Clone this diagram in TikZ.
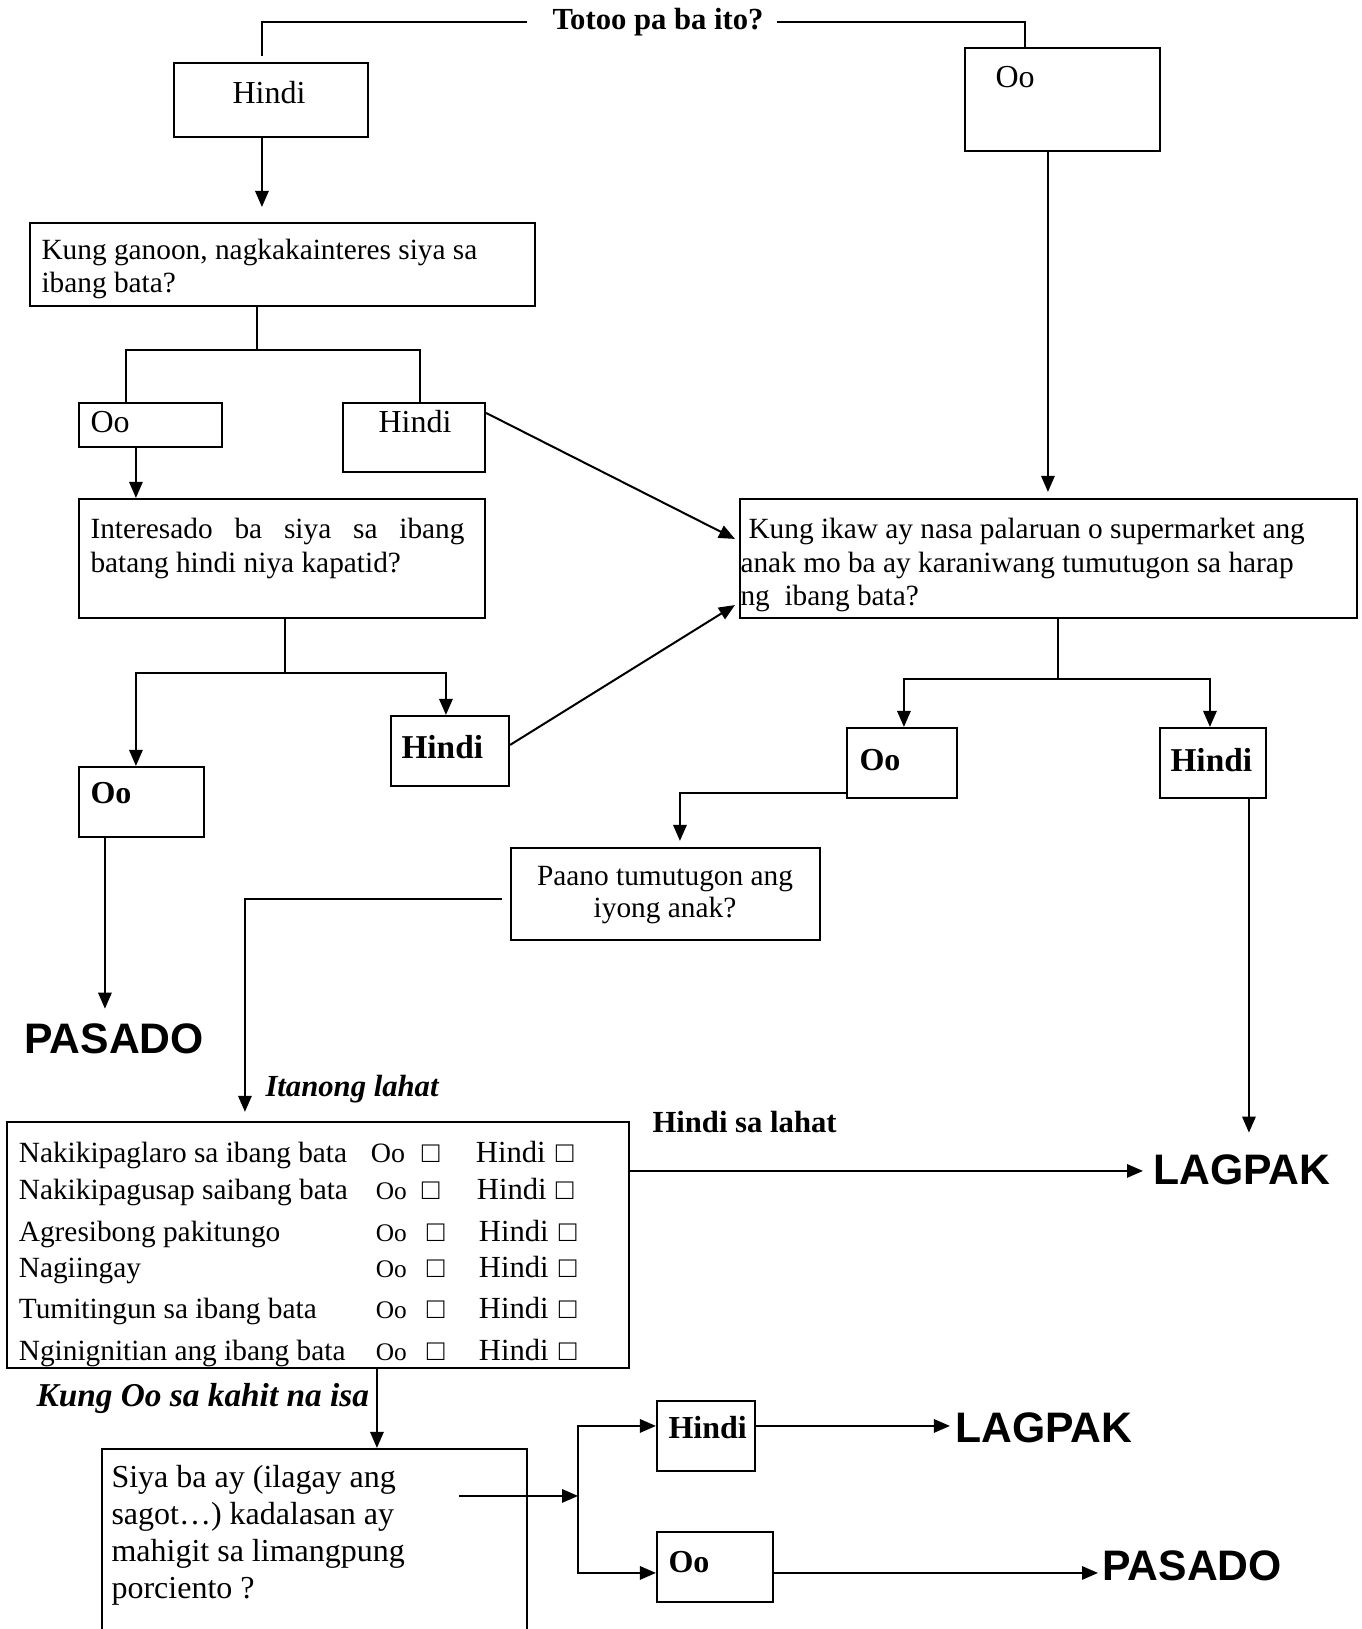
\documentclass[tikz,border=0pt]{standalone}
\usepackage{fontspec}
\setmainfont{Liberation Serif}
\newfontfamily\arialfont{Liberation Sans}
\usetikzlibrary{arrows.meta,calc,fit}
\newdimen\pxu \pxu=0.375pt
\newcommand\fs[1]{\fontsize{#1}{#1}\selectfont}
\newcommand\putat[2]{\makebox[0pt][l]{\hspace*{#1\pxu}#2}}
\begin{document}
\begin{tikzpicture}[x=0.375pt,y=-0.375pt,
 box/.style={draw, line width=0.8pt, inner sep=0pt},
 lbl/.style={anchor=base west, inner sep=0pt, font=\fs{11}},
 ctr/.style={anchor=base, inner sep=0pt, font=\fs{11}},
 ln/.style={line width=0.75pt},
 arr/.style={line width=0.75pt, -{Triangle[length=6pt,width=5pt]}},
 big/.style={anchor=base west, inner sep=0pt, font=\arialfont\bfseries\fs{16}}]
\useasboundingbox (0,0) rectangle (1361,1629);

% ---------- boxes ----------
\node[box, fit={(174,63)(368,137)}] (hindiA) {};
\node[box, fit={(965,48)(1160,151)}] (ooA) {};
\node[box, fit={(30,223)(535,306)}] (q1) {};
\node[box, fit={(79,403)(222,447)}] (ooB) {};
\node[box, fit={(343,403)(485,472)}] (hindiB) {};
\node[box, fit={(79,499)(485,618)}] (q2) {};
\node[box, fit={(740,499)(1357,618)}] (q3) {};
\node[box, fit={(391,716)(509,786)}] (hindiC) {};
\node[box, fit={(79,767)(204,837)}] (ooC) {};
\node[box, fit={(847,728)(957,798)}] (ooD) {};
\node[box, fit={(1160,728)(1266,798)}] (hindiD) {};
\node[box, fit={(511,848)(820,940)}] (q4) {};
\node[box, fit={(7,1122)(629,1368)}] (list) {};
\node[box, fit={(102,1449)(527,1645)}] (q5) {};
\node[box, fit={(657,1401)(755,1471)}] (hindiE) {};
\node[box, fit={(657,1532)(773,1602)}] (ooE) {};

% ---------- texts ----------
\node[lbl, font=\bfseries\fs{11.5}] (title) at (552,29.5) {Totoo pa ba ito?};
\node[lbl, font=\fs{12}] (hindiAt) at (232,104) {Hindi};
\node[lbl, font=\fs{12}] (ooAt) at (995,88) {Oo};
\node[lbl] (q1a) at (41,260) {Kung ganoon, nagkakainteres siya sa};
\node[lbl] (q1b) at (41,293) {ibang bata?};
\node[lbl, font=\fs{12}] (ooBt) at (90,433) {Oo};
\node[lbl, font=\fs{12}] (hindiBt) at (378,433) {Hindi};
\node[lbl] (q2a) at (90,538) {\makebox[140.25pt][s]{Interesado ba siya sa ibang}};
\node[lbl] (q2b) at (90,572) {batang hindi niya kapatid?};
\node[lbl] (q3a) at (748,538) {Kung ikaw ay nasa palaruan o supermarket ang};
\node[lbl] (q3b) at (740,572) {anak mo ba ay karaniwang tumutugon sa harap};
\node[lbl] (q3c) at (740,605) {ng\ \ ibang bata?};
\node[lbl, font=\bfseries\fs{12.5}] (hindiCt) at (401,758) {Hindi};
\node[lbl, font=\bfseries\fs{12}] (ooCt) at (90,803) {Oo};
\node[lbl, font=\bfseries\fs{12}] (ooDt) at (859,770) {Oo};
\node[lbl, font=\bfseries\fs{12.5}] (hindiDt) at (1170,771) {Hindi};
\node[ctr] (q4a) at (665,885) {Paano tumutugon ang};
\node[ctr] (q4b) at (665,917) {iyong anak?};
\node[big] (pasadoA) at (24,1053) {PASADO};
\node[lbl, font=\bfseries\itshape\fs{11.5}] (itanong) at (265,1096) {Itanong lahat};

\node[lbl] (r1) at (17,1162) {\putat{0}{Nakikipaglaro sa ibang bata}\putat{352}{\fs{10.5}Oo}\putat{403}{□}\putat{457}{\fs{11.5}Hindi}\putat{537}{□}};
\node[lbl] (r2) at (17,1199) {\putat{0}{Nakikipagusap saibang bata}\putat{357}{\fs{9.5}Oo}\putat{403}{□}\putat{458}{\fs{11.5}Hindi}\putat{537}{□}};
\node[lbl] (r3) at (17,1241) {\putat{0}{Agresibong pakitungo}\putat{357}{\fs{9.5}Oo}\putat{408}{□}\putat{460}{\fs{11.5}Hindi}\putat{540}{□}};
\node[lbl] (r4) at (17,1277) {\putat{0}{Nagiingay}\putat{357}{\fs{9.5}Oo}\putat{408}{□}\putat{460}{\fs{11.5}Hindi}\putat{540}{□}};
\node[lbl] (r5) at (17,1318) {\putat{0}{Tumitingun sa ibang bata}\putat{357}{\fs{9.5}Oo}\putat{408}{□}\putat{460}{\fs{11.5}Hindi}\putat{540}{□}};
\node[lbl] (r6) at (17,1360) {\putat{0}{Nginignitian ang ibang bata}\putat{357}{\fs{9.5}Oo}\putat{408}{□}\putat{460}{\fs{11.5}Hindi}\putat{540}{□}};

\node[lbl, font=\bfseries\fs{11.5}] (hindiLahat) at (652,1132) {Hindi sa lahat};
\node[big] (lagpakA) at (1153,1184) {LAGPAK};
\node[lbl, font=\bfseries\itshape\fs{12.5}] (kungOo) at (36,1406) {Kung Oo sa kahit na isa};
\node[lbl, font=\fs{12}] (q5a) at (111,1487) {Siya ba ay (ilagay ang};
\node[lbl, font=\fs{12}] (q5b) at (111,1524) {sagot…) kadalasan ay};
\node[lbl, font=\fs{12}] (q5c) at (111,1561) {mahigit sa limangpung};
\node[lbl, font=\fs{12}] (q5d) at (111,1598) {porciento ?};
\node[lbl, font=\bfseries\fs{12}] (hindiEt) at (668,1438) {Hindi};
\node[lbl, font=\bfseries\fs{12}] (ooEt) at (668,1572) {Oo};
\node[big] (lagpakB) at (955,1442) {LAGPAK};
\node[big] (pasadoB) at (1102,1580) {PASADO};

% ---------- connectors ----------
\draw[ln, shorten <=9.4pt] (title.west) -| ($(hindiA.north west)+(89,-6)$);
\draw[ln, shorten <=4.9pt] (title.east) -| ($(ooA.north west)+(61,0)$);
\draw[arr, shorten >=5.6pt] ($(hindiA.south west)+(89,0)$) -- ($(q1.north west)+(233,0)$);

\coordinate (j1) at ($(q1.south west)+(228,43)$);
\draw[ln] ($(q1.south west)+(228,0)$) -- (j1);
\draw[ln] ($(ooB.north west)+(48,0)$) |- (j1) -| ($(hindiB.north west)+(78,0)$);
\draw[arr] ($(ooB.south west)+(58,0)$) -- ($(q2.north west)+(58,0)$);
\draw[arr] ($(hindiB.north east)+(0,11)$) -- ($(q3.north west)+(-4,41)$);
\draw[arr, shorten >=2.25pt] ($(ooA.south west)+(84,0)$) -- ($(q3.north west)+(309,0)$);

\coordinate (j2) at ($(q2.south west)+(207,54)$);
\draw[ln] ($(q2.south west)+(207,0)$) -- (j2);
\draw[arr] (j2) -| ($(ooC.north west)+(58,0)$);
\draw[arr] (j2) -| ($(hindiC.north west)+(56,0)$);
\draw[arr] ($(hindiC.north east)+(0,30)$) -- ($(q3.south west)+(-4,-14)$);

\coordinate (j3) at ($(q3.south west)+(319,60)$);
\draw[ln] ($(q3.south west)+(319,0)$) -- (j3);
\draw[arr] (j3) -| ($(ooD.north west)+(58,0)$);
\draw[arr] (j3) -| ($(hindiD.north west)+(51,0)$);

\coordinate (c1) at ($(ooC.south west)+(27,0)$);
\draw[arr, shorten >=5.25pt] (c1) -- (c1 |- pasadoA.north);
\draw[arr, shorten >=2.25pt] ($(ooD.south west)+(0,-6)$) -| ($(q4.north west)+(170,0)$);
\draw[arr, shorten <=3pt, shorten >=3.4pt] ($(q4.south west)+(0,-42)$) -| ($(list.north west)+(239,0)$);

\coordinate (c2) at ($(hindiD.south west)+(90,0)$);
\draw[arr, shorten >=7.9pt] (c2) -- (c2 |- lagpakA.north);
\coordinate (c3) at ($(list.north east)+(0,50)$);
\draw[arr, shorten >=3.75pt] (c3) -- (c3 -| lagpakA.west);

\draw[arr] ($(list.south west)+(371,0)$) -- ($(q5.north west)+(276,0)$);
\coordinate (j4) at ($(q5.north east)+(50,48)$);
\draw[arr] ($(q5.north east)+(-69,48)$) -- (j4);
\coordinate (e1) at ($(hindiE.north west)+(0,26)$);
\coordinate (e2) at ($(ooE.north west)+(0,42)$);
\draw[arr] (j4) |- (e1);
\draw[arr] (j4) |- (e2);
\coordinate (e3) at ($(hindiE.north east)+(0,26)$);
\draw[arr, shorten >=1.9pt] (e3) -- (e3 -| lagpakB.west);
\coordinate (e4) at ($(ooE.north east)+(0,42)$);
\draw[arr, shorten >=1.5pt] (e4) -- (e4 -| pasadoB.west);
\end{tikzpicture}
\end{document}
